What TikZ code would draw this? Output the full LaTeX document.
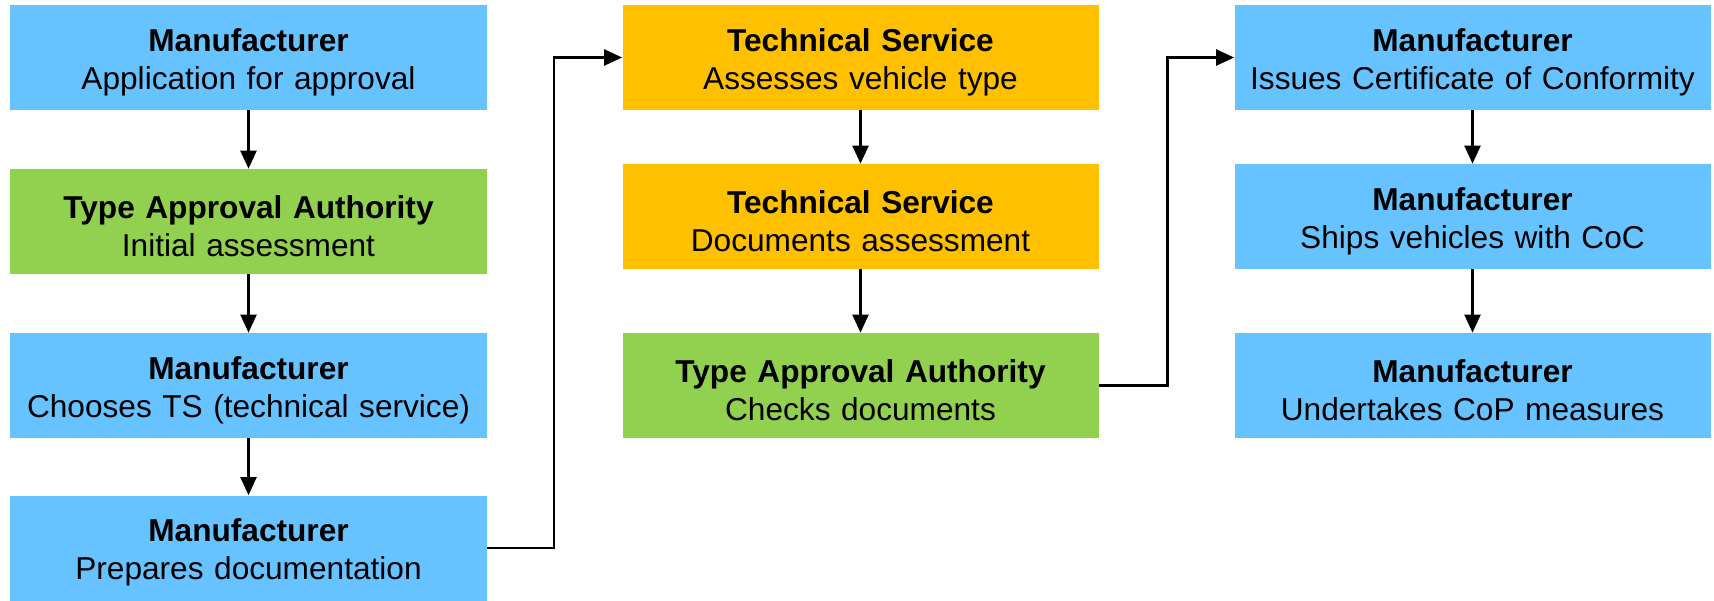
\documentclass[tikz,border=0pt]{standalone}
\usepackage{fontspec}
\setmainfont{Liberation Sans}
\usetikzlibrary{arrows.meta}

\definecolor{mfblue}{HTML}{66C3FF}
\definecolor{tagreen}{HTML}{92D050}
\definecolor{tsgold}{HTML}{FFC000}

\tikzset{
  stepbox/.style={rectangle, inner sep=0pt, minimum width=9.52cm, minimum height=2.1cm,
    text width=9.4cm, align=center, font=\fontsize{18}{21.6}\selectfont,
    execute at begin node=\rule{0pt}{0.65cm}},
  mf/.style={stepbox, fill=mfblue},
  ta/.style={stepbox, fill=tagreen},
  ts/.style={stepbox, fill=tsgold},
  arr/.style={line width=1.3pt, -{Triangle[length=0.36cm, width=0.32cm]}}
}

\begin{document}
\begin{tikzpicture}
    \useasboundingbox (0,0) rectangle (34.28,-12);

    \node[mf] (m1) at (4.97,-1.15) {\textbf{Manufacturer}\\Application for approval};
    \node[ta] (a1) at (4.97,-4.43) {\textbf{Type Approval Authority}\\Initial assessment};
    \node[mf] (m2) at (4.97,-7.71) {\textbf{Manufacturer}\\Chooses TS (technical service)};
    \node[mf] (m3) at (4.97,-10.96) {\textbf{Manufacturer}\\Prepares documentation};

    \node[ts] (t1) at (17.21,-1.15) {\textbf{Technical Service}\\Assesses vehicle type};
    \node[ts] (t2) at (17.21,-4.33) {\textbf{Technical Service}\\Documents assessment};
    \node[ta] (a2) at (17.21,-7.71) {\textbf{Type Approval Authority}\\Checks documents};

    \node[mf] (m4) at (29.45,-1.15) {\textbf{Manufacturer}\\Issues Certificate of Conformity};
    \node[mf] (m5) at (29.45,-4.33) {\textbf{Manufacturer}\\Ships vehicles with CoC};
    \node[mf] (m6) at (29.45,-7.71) {\textbf{Manufacturer}\\Undertakes CoP measures};

    \coordinate (k1) at (11.08,0);
    \coordinate (k2) at (23.35,0);

    \draw[arr] (m1) -- (a1);
    \draw[arr] (a1) -- (m2);
    \draw[arr] (m2) -- (m3);
    \draw[arr] (t1) -- (t2);
    \draw[arr] (t2) -- (a2);
    \draw[arr] (m4) -- (m5);
    \draw[arr] (m5) -- (m6);

    \draw[arr] (m3.east) -- (m3.east -| k1) -- (k1 |- t1.west) -- (t1.west);
    \draw[arr] (a2.east) -- (a2.east -| k2) -- (k2 |- m4.west) -- (m4.west);
\end{tikzpicture}
\end{document}
